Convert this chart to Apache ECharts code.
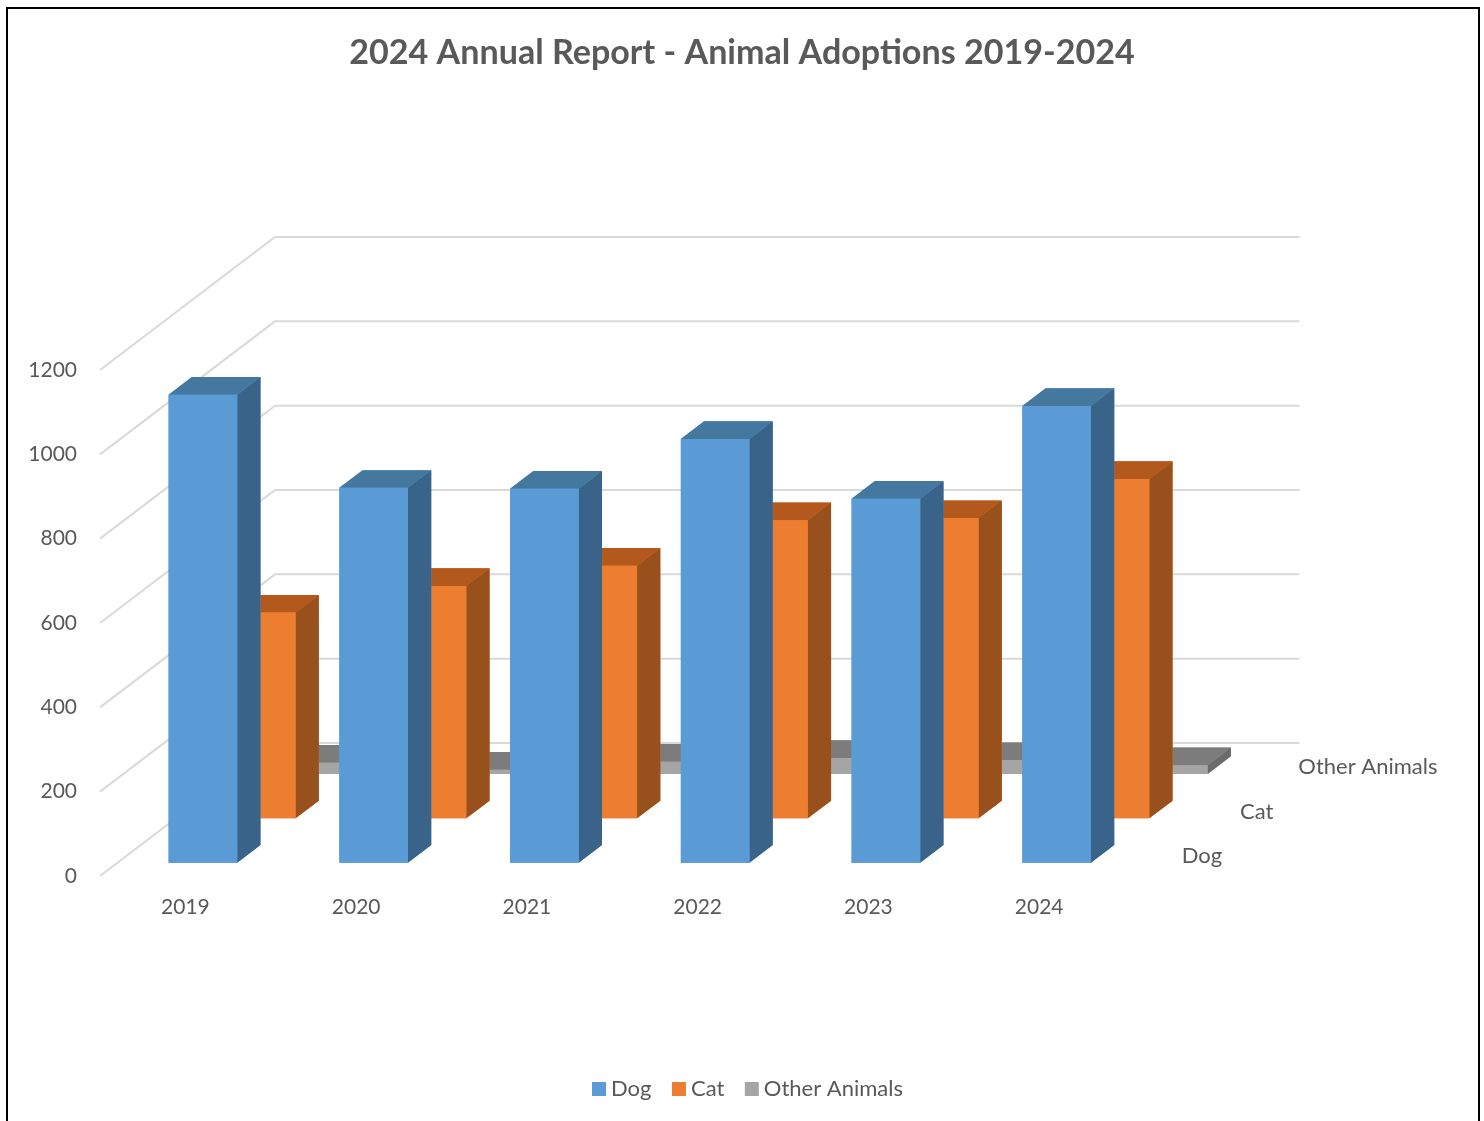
<!DOCTYPE html>
<html>
<head>
<meta charset="utf-8">
<style>html,body{margin:0;padding:0;background:#fff;overflow:hidden}#chart{width:1484px;height:1121px}</style>
<script src="https://cdn.jsdelivr.net/npm/echarts@6/dist/echarts.min.js"></script>
</head>
<body>
<div id="chart"></div>
<script>
const categories = ['2019','2020','2021','2022','2023','2024'];
const depthNames = ['Dog','Cat','Other Animals'];
const dog = [1110,889,887,1005,863,1083];
const cat = [488,551,599,707,712,805];
const other = [27,10,29,38,33,21];
const yTicks = [0,200,400,600,800,1000,1200];

const FONT = 'Lato';
const TEXT = '#595959';
const DEPTH_X = 175, DEPTH_Y = -133;
const BAR_WIDTH = 0.402, BAR_DEPTH = 0.133;

const chart = echarts.init(document.getElementById('chart'));

function shift(p, d){ return [p[0] + DEPTH_X*d, p[1] + DEPTH_Y*d]; }

function barSeries(name, values, depthIndex, colors){
  const center = (depthIndex + 0.5)/3;
  return {
    name, type:'custom', coordinateSystem:'cartesian2d',
    itemStyle:{color:colors[0]},
    encode:{x:0,y:1},
    z:3+(2-depthIndex),
    data: values.map((v,i)=>[categories[i],v]),
    renderItem(params, api){
      const i = api.value(0), v = api.value(1);
      const half = api.size([1,0])[0]*BAR_WIDTH/2;
      const b = api.coord([i,0]), t = api.coord([i,v]);
      const d0 = center - BAR_DEPTH/2, d1 = center + BAR_DEPTH/2;
      const fbl = shift([b[0]-half,b[1]],d0), fbr = shift([b[0]+half,b[1]],d0);
      const ftl = shift([t[0]-half,t[1]],d0), ftr = shift([t[0]+half,t[1]],d0);
      const bbr = shift([b[0]+half,b[1]],d1);
      const btl = shift([t[0]-half,t[1]],d1), btr = shift([t[0]+half,t[1]],d1);
      const poly = (pts,fill)=>({type:'polygon',shape:{points:pts},style:{fill}});
      return {type:'group',children:[
        poly([fbl,ftl,btl,btr,bbr,fbr],colors[0]),
        poly([fbr,ftr,btr,bbr],colors[1]),
        poly([ftl,ftr,btr,btl],colors[2]),
        poly([fbl,fbr,ftr,ftl],colors[0])
      ]};
    }
  };
}

const wallSeries = {
  name:'walls', type:'custom', coordinateSystem:'cartesian2d', silent:true, z:1,
  encode:{x:0,y:1},
  data: yTicks.map(v=>[categories[0],v]),
  renderItem(params, api){
    const v = api.value(1);
    const y = api.coord([0,v])[1];
    const g = params.coordSys;
    const style = {stroke:'#D9D9D9',lineWidth:2,fill:null};
    const frontL = [g.x,y], frontR = [g.x+g.width,y];
    const backL = shift(frontL,1), backR = shift(frontR,1);
    return {type:'group',children:[
      {type:'polyline',shape:{points:[frontL,backL,backR]},style}
    ]};
  }
};

const depthLabels = {
  name:'depth', type:'custom', coordinateSystem:'cartesian2d', silent:true, z:2,
  encode:{x:0,y:1},
  data: depthNames.map(()=>[categories[0],0]),
  renderItem(params, api){
    const g = params.coordSys;
    const p = shift([g.x+g.width+28, g.y+g.height+2],(params.dataIndex+0.5)/3);
    return {type:'text',x:p[0],y:p[1],style:{text:depthNames[params.dataIndex],fill:TEXT,font:'22px '+FONT,textAlign:'left',textVerticalAlign:'middle'}};
  }
};

chart.setOption({
  animation:false,
  backgroundColor:'#fff',
  textStyle:{fontFamily:FONT},
  title:{text:'2024 Annual Report - Animal Adoptions 2019-2024',left:'center',top:31,
    textStyle:{fontFamily:FONT,fontWeight:'bold',fontSize:34.1,color:TEXT}},
  legend:{data:depthNames,left:592,top:1078,padding:0,icon:'rect',itemWidth:14,itemHeight:14,itemGap:20.5,selectedMode:false,
    textStyle:{fontFamily:FONT,fontSize:22,color:TEXT}},
  grid:{left:100,top:370,width:1024.5,height:506},
  xAxis:{type:'category',data:categories,axisLine:{show:false},axisTick:{show:false},splitLine:{show:false},
    axisLabel:{fontFamily:FONT,fontSize:21,color:TEXT,margin:21}},
  yAxis:{type:'value',min:0,max:1200,interval:200,axisLine:{show:false},axisTick:{show:false},splitLine:{show:false},
    axisLabel:{fontFamily:FONT,fontSize:21,color:TEXT,margin:23,formatter:v=>String(v),padding:[2,0,0,0]}},
  graphic:[{type:'polyline',silent:true,z:100,shape:{points:[[7,1121],[7,8],[1479,8],[1479,1121]]},style:{stroke:'#000',lineWidth:2,fill:null}}],
  series:[
    wallSeries,
    depthLabels,
    barSeries('Other Animals',other,2,['#A5A5A5','#6B6B6B','#7C7C7C']),
    barSeries('Cat',cat,1,['#ED7D31','#98501C','#B3591D']),
    barSeries('Dog',dog,0,['#5B9BD5','#3A6389','#44789F'])
  ]
});
</script>
</body>
</html>
